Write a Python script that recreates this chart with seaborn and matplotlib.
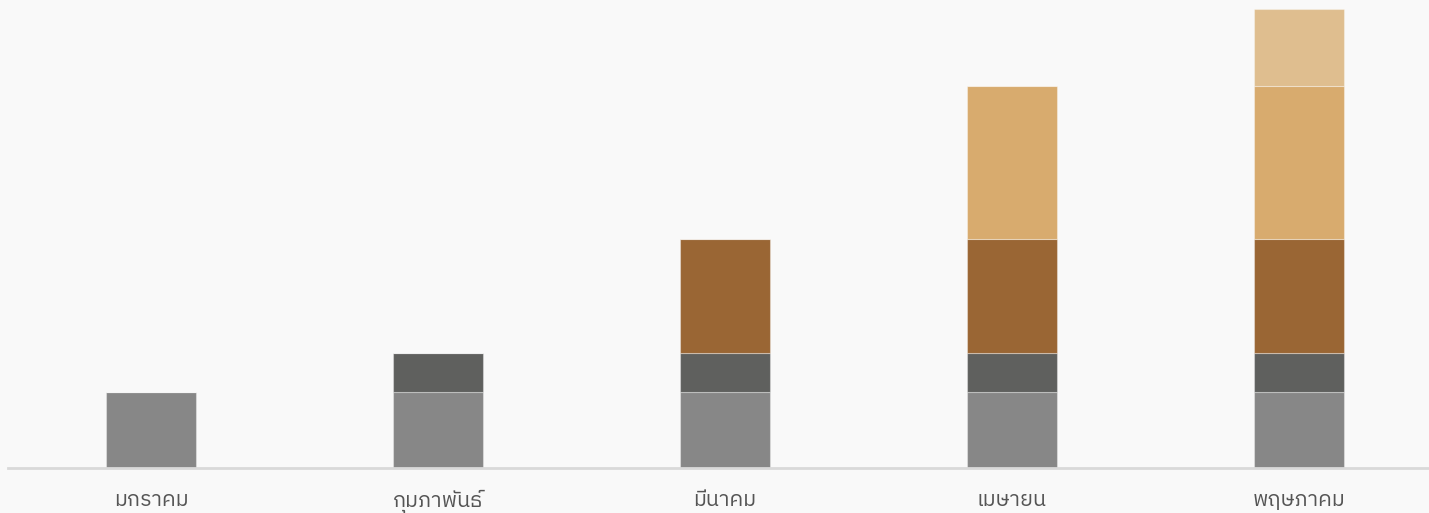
import matplotlib
matplotlib.use("Agg")
import matplotlib.pyplot as plt
from matplotlib import font_manager
import seaborn as sns
import pandas as pd
import numpy as np

months = ["มกราคม", "กุมภาพันธ์", "มีนาคม", "เมษายน", "พฤษภาคม"]
series_names = ["s1", "s2", "s3", "s4", "s5"]
s1 = [2, 2, 2, 2, 2]
s2 = [0, 1, 1, 1, 1]
s3 = [0, 0, 3, 3, 3]
s4 = [0, 0, 0, 4, 4]
s5 = [0, 0, 0, 0, 2]
colors = ["#878787", "#5f605e", "#9a6634", "#d8ab6e", "#dfbe8f"]

# find a font with Thai glyphs
thai_font = None
try:
    from matplotlib.ft2font import FT2Font
    cands = []
    for f in font_manager.findSystemFonts():
        try:
            ft = FT2Font(f)
            cm = ft.get_charmap()
            if 0x0E01 in cm and 0x0E21 in cm:
                cands.append((f, ft.family_name))
        except Exception:
            pass
    if cands:
        pref = [c for c in cands if "Thai" in c[1] and "Bold" not in c[0]]
        pick = pref[0] if pref else cands[0]
        font_manager.fontManager.addfont(pick[0])
        thai_font = font_manager.FontProperties(fname=pick[0]).get_name()
except Exception as e:
    print(e)

sns.set_theme(style="white")
fams = ([thai_font] if thai_font else []) + ["DejaVu Sans"]
plt.rcParams["font.family"] = fams

df = pd.DataFrame({"month": months, "s1": s1, "s2": s2, "s3": s3, "s4": s4, "s5": s5})

fig = plt.figure(figsize=(14.29, 5.13), dpi=100)
fig.patch.set_facecolor("#f9f9f9")
ax = fig.add_axes([7.5 / 1429, 45 / 513, 1435 / 1429, 459 / 513])
ax.set_facecolor("#f9f9f9")

bottom = np.zeros(len(months))
for name, col in zip(series_names, colors):
    vals = df[name].to_numpy(dtype=float)
    sns.barplot(x=df["month"], y=vals, bottom=bottom, color=col, width=0.314,
                ax=ax, edgecolor=(1, 1, 1, 0.35), linewidth=0.8, saturation=1)
    bottom = bottom + vals

ax.set_ylim(0, 12)
ax.set_xlim(-0.5, 4.5)
for s in ["top", "right", "left"]:
    ax.spines[s].set_visible(False)
ax.spines["bottom"].set_color("#d9d9d9")
ax.spines["bottom"].set_linewidth(2)
ax.set_yticks([])
ax.set_xlabel("")
ax.set_ylabel("")
ax.tick_params(axis="x", length=0, pad=15, labelsize=15.5, labelcolor="#555555")

fig.savefig("out.png", dpi=100, facecolor=fig.get_facecolor())
